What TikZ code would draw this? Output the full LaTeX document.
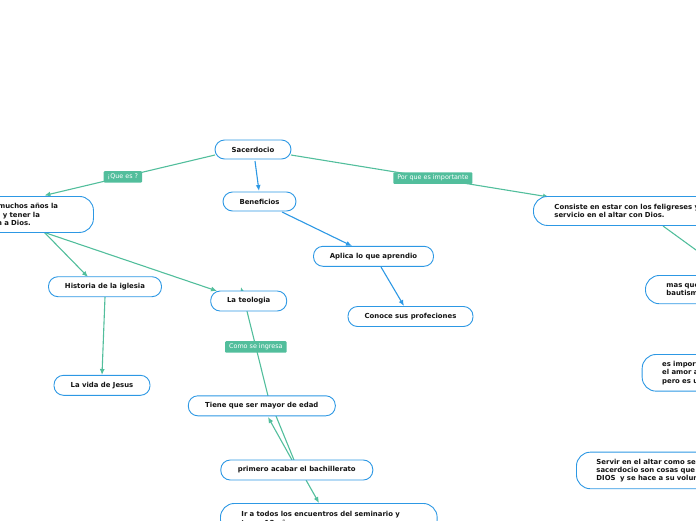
\documentclass[tikz,border=0pt]{standalone}
\usepackage{fontspec}
\setmainfont{DejaVu Sans}
\usetikzlibrary{arrows.meta,calc}
\definecolor{gline}{RGB}{82,190,156}
\definecolor{bline}{RGB}{45,152,228}
\pgfdeclarelayer{bg}
\pgfsetlayers{bg,main}
\begin{document}
\begin{tikzpicture}[x=1pt,y=-1pt,
  nodefont/.style={font=\fontsize{6.9}{8.3}\selectfont\bfseries, text=black!92},
  pill/.style={nodefont, draw=bline, line width=0.9pt, fill=white, rounded corners=9.5pt, minimum height=20pt, inner sep=0pt},
  mbox/.style={nodefont, draw=bline, line width=0.9pt, fill=white, rounded corners=14pt, anchor=north west, inner ysep=0pt, inner xsep=20pt, align=left},
  lbl/.style={fill=gline, text=white, font=\fontsize{6.4}{7}\selectfont, inner xsep=4pt, inner ysep=0pt, minimum height=11.5pt, rounded corners=1pt},
  gc/.style={draw=gline, line width=1.1pt},
  ga/.style={gc, -{Latex[length=6pt,width=5pt]}},
  ba/.style={draw=bline, line width=1.1pt, -{Latex[length=6pt,width=5pt]}}
]
\useasboundingbox (0,0) rectangle (696,520);
\clip (0,0) rectangle (696,520);

% single-line nodes
\node[pill, minimum width=76pt, minimum height=19pt] (sac) at (253,149.5) {Sacerdocio};
\node[pill, minimum width=73pt, minimum height=19pt] (ben) at (259.5,201.5) {Beneficios};
\node[pill, minimum width=120pt] (apl) at (373.5,256.3) {Aplica lo que aprendio};
\node[pill, minimum width=125pt] (con) at (410.5,316.5) {Conoce sus profeciones};
\node[pill, minimum width=113pt] (hist) at (105,286.7) {Historia de la iglesia};
\node[pill, minimum width=96pt] (vida) at (102,385.3) {La vida de Jesus};
\node[pill, minimum width=76pt] (teo) at (248.7,301) {La teologia};
\node[pill, minimum width=147pt] (tiene) at (261.8,405.8) {Tiene que ser mayor de edad};
\node[pill, minimum width=152pt] (prim) at (296.8,470) {primero acabar el bachillerato};

% multi-line nodes
\node[mbox, text width=110pt, minimum height=36pt] (left) at (-57,196)
  {Estudiar muchos años la\\disciplina y tener la\\adoración a Dios.};
\node[mbox, inner xsep=21pt, text width=174.7pt, minimum height=30pt] (ir) at (220,503)
  {Ir a todos los encuentros del seminario y\\tener 18 años};
\node[mbox, inner xsep=21pt, text width=200pt, minimum height=29pt] (cons) at (533,196)
  {Consiste en estar con los feligreses y dar\\servicio en el altar con Dios.};
\node[mbox, inner xsep=21pt, text width=80pt, minimum height=28.3pt] (mas) at (645,275)
  {mas que un\\bautismo};
\node[mbox, text width=100pt, minimum height=36.7pt] (imp) at (641.7,354)
  {es importante tener\\el amor a Dios\\pero es un servicio};
\node[mbox, text width=170pt, minimum height=36.6pt] (serv) at (576,451.7)
  {Servir en el altar como servidor del\\sacerdocio son cosas que quiere\\DIOS~ y se hace a su voluntad.};

\coordinate (off) at (740,282);

\begin{pgfonlayer}{bg}
  \draw[ga] ($(sac.center)+(-38,5.5)$) -- node[lbl,pos=0.54]{¡Que es ?} ($(left.center)+(26,-19)$);
  \draw[ba] ($(sac.center)+(2,11.5)$) -- ($(ben.center)+(-0.5,-10.5)$);
  \draw[ga] ($(sac.center)+(38,5.5)$) -- node[lbl,pos=0.55]{Por que es importante} ($(cons.north west)+(16,1)$);
  \draw[ba] ($(ben.center)+(22.5,10.5)$) -- ($(apl.center)+(-21.5,-10.3)$);
  \draw[ba] ($(apl.center)+(7.5,10.7)$) -- ($(con.center)+(-6.5,-10.5)$);
  \draw[ga] ($(left.center)+(26,18)$) -- ($(hist.center)+(-17,-9.7)$);
  \draw[ga] ($(left.center)+(26,18)$) -- ($(teo.center)+(-31.7,-10)$);
  \draw[ga] ($(hist.center)+(0,10.3)$) -- ($(vida.center)+(0,-10.3)$);
  \draw[ga] ($(tiene.center)+(6.2,-9.8)$) -- node[lbl,pos=0.45]{Como se ingresa} ($(teo.center)+(-7.7,-14)$);
  \draw[gc] ($(tiene.center)+(14.2,10.2)$) -- ($(prim.center)+(-2.8,-10)$);
  \draw[ga] ($(prim.center)+(-4.8,-10)$) -- ($(tiene.center)+(6.2,11.2)$);
  \draw[ga] ($(prim.center)+(9.2,10)$) -- ($(ir.north west)+(99,0)$);
  \draw[gc] ($(cons.north west)+(130,30)$) -- (off);
\end{pgfonlayer}
\end{tikzpicture}
\end{document}
